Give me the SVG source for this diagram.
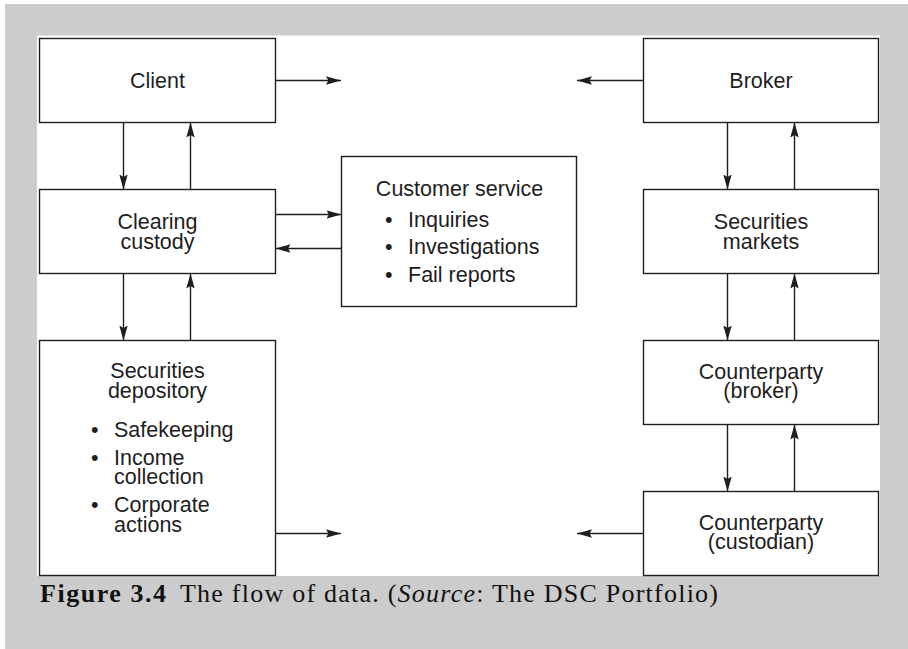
<svg xmlns="http://www.w3.org/2000/svg" width="908" height="649" viewBox="0 0 908 649">
  <style>
    .box { fill: #ffffff; stroke: #1e1e1e; stroke-width: 1.4; }
    .lbl { font-family: "Liberation Sans", Arial, Helvetica, sans-serif; font-size: 21.5px; fill: #1e1e1e; }
    .mid { text-anchor: middle; }
    .flow { stroke: #1e1e1e; stroke-width: 1.4; fill: none; marker-end: url(#head); }
    .cap { font-family: "Liberation Serif", "Times New Roman", serif; font-size: 26px; fill: #111111; }
  </style>
  <defs>
    <marker id="head" markerUnits="userSpaceOnUse" markerWidth="16" markerHeight="10" refX="15" refY="5" orient="auto">
      <path d="M0,0.8 L15,5 L0,9.2 L2.4,5 z" fill="#1e1e1e"/>
    </marker>
  </defs>

  <!-- page background and figure panel -->
  <rect x="0" y="0" width="908" height="649" fill="#ffffff"/>
  <rect x="5" y="4" width="903" height="645" fill="#cccccc"/>
  <rect x="37" y="35" width="843" height="541" fill="#ffffff"/>
  <line x1="37" y1="35.5" x2="880" y2="35.5" stroke="#e6e6e6" stroke-width="1"/>

  <!-- connectors -->
  <g id="connectors">
    <line class="flow" x1="275.5" y1="80.5" x2="341" y2="80.5"/>
    <line class="flow" x1="643.5" y1="80.5" x2="577" y2="80.5"/>
    <line class="flow" x1="123.5" y1="122.5" x2="123.5" y2="189.5"/>
    <line class="flow" x1="190.5" y1="189.5" x2="190.5" y2="122.5"/>
    <line class="flow" x1="275.5" y1="214.5" x2="341.5" y2="214.5"/>
    <line class="flow" x1="341.5" y1="248.5" x2="275.5" y2="248.5"/>
    <line class="flow" x1="123.5" y1="273.5" x2="123.5" y2="340.5"/>
    <line class="flow" x1="190.5" y1="340.5" x2="190.5" y2="273.5"/>
    <line class="flow" x1="727.5" y1="122.5" x2="727.5" y2="189.5"/>
    <line class="flow" x1="794.5" y1="189.5" x2="794.5" y2="122.5"/>
    <line class="flow" x1="727.5" y1="273.5" x2="727.5" y2="340.5"/>
    <line class="flow" x1="794.5" y1="340.5" x2="794.5" y2="273.5"/>
    <line class="flow" x1="727.5" y1="424.5" x2="727.5" y2="491.5"/>
    <line class="flow" x1="794.5" y1="491.5" x2="794.5" y2="424.5"/>
    <line class="flow" x1="275.5" y1="533.5" x2="341" y2="533.5"/>
    <line class="flow" x1="643.5" y1="533.5" x2="577" y2="533.5"/>
  </g>

  <!-- nodes -->
  <g id="client">
    <rect class="box" x="39.5" y="38.5" width="236" height="84"/>
    <text class="lbl mid" x="157.5" y="88">Client</text>
  </g>

  <g id="broker">
    <rect class="box" x="643.5" y="38.5" width="235" height="84"/>
    <text class="lbl mid" x="761" y="88">Broker</text>
  </g>

  <g id="clearing-custody">
    <rect class="box" x="39.5" y="189.5" width="236" height="84"/>
    <text class="lbl mid" x="157.5" y="229">Clearing</text>
    <text class="lbl mid" x="157.5" y="248.5">custody</text>
  </g>

  <g id="customer-service">
    <rect class="box" x="341.5" y="156.5" width="235" height="150"/>
    <text class="lbl mid" x="459.5" y="196">Customer service</text>
    <text class="lbl" x="385" y="226.5">•</text>
    <text class="lbl" x="408" y="226.5">Inquiries</text>
    <text class="lbl" x="385" y="254">•</text>
    <text class="lbl" x="408" y="254">Investigations</text>
    <text class="lbl" x="385" y="281.5">•</text>
    <text class="lbl" x="408" y="281.5">Fail reports</text>
  </g>

  <g id="securities-markets">
    <rect class="box" x="643.5" y="189.5" width="235" height="84"/>
    <text class="lbl mid" x="761" y="229">Securities</text>
    <text class="lbl mid" x="761" y="248.5">markets</text>
  </g>

  <g id="securities-depository">
    <rect class="box" x="39.5" y="340.5" width="236" height="235"/>
    <text class="lbl mid" x="157.5" y="378">Securities</text>
    <text class="lbl mid" x="157.5" y="397.5">depository</text>
    <text class="lbl" x="91" y="437">•</text>
    <text class="lbl" x="114" y="437">Safekeeping</text>
    <text class="lbl" x="91" y="464.5">•</text>
    <text class="lbl" x="114" y="464.5">Income</text>
    <text class="lbl" x="114" y="484">collection</text>
    <text class="lbl" x="91" y="512">•</text>
    <text class="lbl" x="114" y="512">Corporate</text>
    <text class="lbl" x="114" y="531.5">actions</text>
  </g>

  <g id="counterparty-broker">
    <rect class="box" x="643.5" y="340.5" width="235" height="84"/>
    <text class="lbl mid" x="761" y="378.5">Counterparty</text>
    <text class="lbl mid" x="761" y="398">(broker)</text>
  </g>

  <g id="counterparty-custodian">
    <rect class="box" x="643.5" y="491.5" width="235" height="84"/>
    <text class="lbl mid" x="761" y="529.5">Counterparty</text>
    <text class="lbl mid" x="761" y="549">(custodian)</text>
  </g>

  <!-- caption -->
  <text class="cap" x="40" y="602" font-weight="bold" textLength="126" lengthAdjust="spacing">Figure 3.4</text>
  <text class="cap" x="180" y="602" textLength="538" lengthAdjust="spacing">The flow of data. (<tspan font-style="italic">Source</tspan>: The DSC Portfolio)</text>
</svg>
